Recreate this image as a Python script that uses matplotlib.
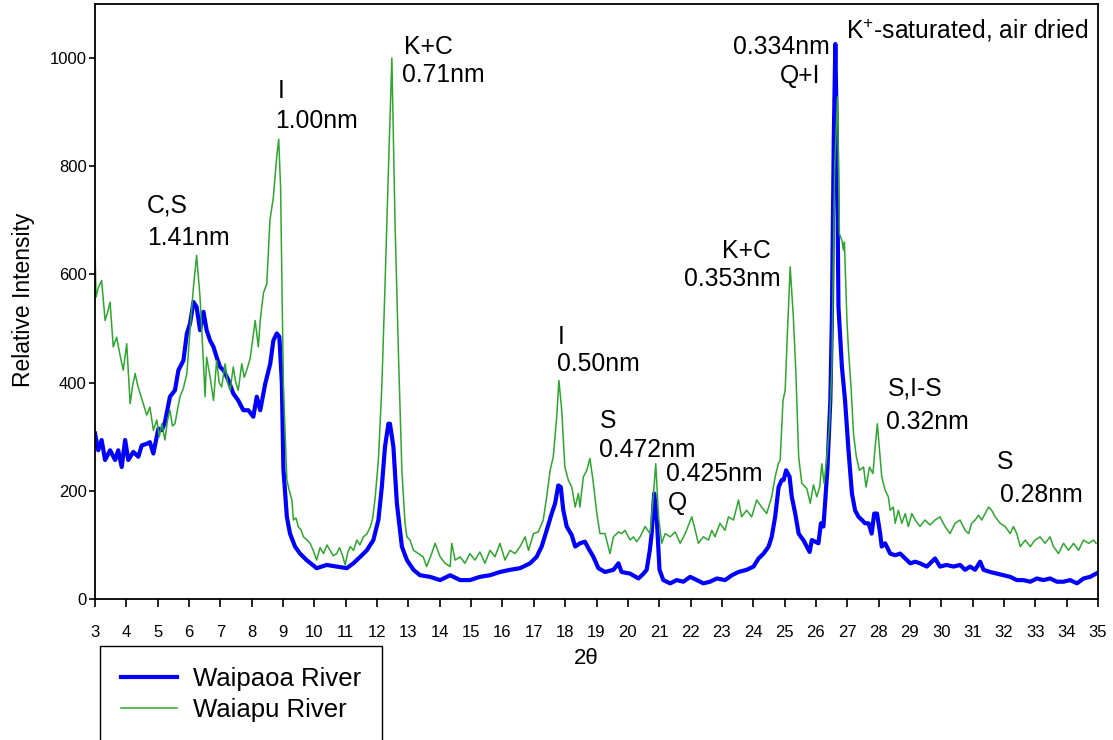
import matplotlib
matplotlib.use("Agg")
import matplotlib.pyplot as plt

plt.rcParams['font.family'] = ['Liberation Sans', 'DejaVu Sans']
plt.rcParams['mathtext.fontset'] = 'custom'
plt.rcParams['mathtext.rm'] = 'Liberation Sans'
plt.rcParams['mathtext.default'] = 'regular'

# Waipaoa River (blue)
waipaoa_x = [3.00, 3.10, 3.21, 3.32, 3.48, 3.64, 3.74, 3.85, 3.96, 4.06, 4.22, 4.38, 4.49, 4.65, 4.75,
             4.86, 5.02, 5.13, 5.23, 5.39, 5.55, 5.66, 5.82, 5.93, 6.03, 6.14, 6.24, 6.35, 6.46, 6.56,
             6.67, 6.78, 6.88, 6.99, 7.10, 7.26, 7.41, 7.57, 7.73, 7.89, 8.05, 8.16, 8.27, 8.43, 8.59,
             8.69, 8.80, 8.88, 8.96, 9.01, 9.12, 9.22, 9.38, 9.54, 9.75, 10.07, 10.39, 10.71, 11.03,
             11.24, 11.46, 11.67, 11.88, 12.04, 12.15, 12.25, 12.36, 12.41, 12.52, 12.63, 12.79, 12.95,
             13.16, 13.37, 13.69, 14.01, 14.33, 14.65, 14.96, 15.28, 15.60, 15.92, 16.24, 16.56, 16.88,
             17.09, 17.25, 17.41, 17.57, 17.68, 17.78, 17.86, 17.94, 18.05, 18.21, 18.32, 18.47, 18.63,
             18.74, 18.90, 19.06, 19.27, 19.54, 19.70, 19.80, 20.07, 20.34, 20.50, 20.60, 20.70, 20.76,
             20.84, 20.92, 21.01, 21.13, 21.35, 21.56, 21.77, 21.99, 22.20, 22.41, 22.62, 22.84, 23.10,
             23.32, 23.53, 23.79, 24.01, 24.17, 24.33, 24.49, 24.59, 24.70, 24.81, 24.91, 24.97, 25.05,
             25.16, 25.23, 25.34, 25.45, 25.52, 25.60, 25.71, 25.80, 25.87, 25.98, 26.08, 26.16, 26.24,
             26.30, 26.37, 26.46, 26.51, 26.57, 26.62, 26.67, 26.72, 26.77, 26.83, 26.93, 27.04, 27.15,
             27.25, 27.36, 27.47, 27.57, 27.68, 27.78, 27.86, 27.95, 28.05, 28.10, 28.21, 28.37, 28.53,
             28.69, 28.85, 29.01, 29.17, 29.32, 29.54, 29.80, 29.96, 30.17, 30.39, 30.60, 30.76, 30.92,
             31.08, 31.24, 31.35, 31.56, 31.77, 31.99, 32.20, 32.41, 32.62, 32.84, 33.05, 33.26, 33.47,
             33.69, 33.90, 34.11, 34.33, 34.54, 34.75, 34.94]
waipaoa_y = [306, 275, 294, 257, 275, 257, 275, 244, 294, 257, 272, 263, 284, 287, 290,
             269, 315, 312, 327, 374, 386, 423, 441, 491, 509, 549, 540, 497, 531, 497,
             478, 466, 447, 429, 423, 404, 380, 367, 349, 349, 337, 374, 349, 398, 435,
             478, 491, 485, 400, 240, 152, 121, 97, 84, 72, 57, 63, 60, 57,
             66, 78, 90, 109, 146, 207, 281, 324, 324, 281, 177, 97, 72,
             54, 44, 41, 35, 44, 35, 35, 41, 44, 50, 54, 57, 66,
             78, 97, 127, 158, 177, 210, 207, 164, 134, 118, 97, 103, 106,
             94, 78, 57, 50, 54, 66, 50, 47, 38, 47, 54, 90, 121,
             195, 152, 54, 35, 29, 35, 32, 41, 35, 29, 32, 38, 35,
             44, 50, 54, 60, 75, 84, 97, 115, 152, 207, 220, 220, 238,
             226, 189, 158, 121, 115, 109, 97, 87, 109, 106, 103, 140, 134,
             183, 244, 367, 520, 850, 1026, 850, 540, 491, 429, 367, 275, 195,
             164, 152, 146, 140, 140, 121, 158, 158, 121, 97, 103, 84, 81,
             84, 75, 66, 69, 66, 60, 75, 60, 63, 60, 63, 54, 60,
             54, 69, 54, 50, 47, 44, 41, 35, 35, 32, 38, 35, 38,
             32, 32, 35, 29, 38, 41, 47]

# Waiapu River (green)
waiapu_x = [3.00, 3.03, 3.10, 3.21, 3.32, 3.40, 3.48, 3.58, 3.69, 3.80, 3.90, 4.01, 4.12, 4.20, 4.28,
            4.36, 4.44, 4.54, 4.65, 4.75, 4.86, 4.97, 5.05, 5.13, 5.23, 5.31, 5.39, 5.47, 5.55, 5.63,
            5.71, 5.82, 5.93, 6.03, 6.14, 6.24, 6.35, 6.46, 6.51, 6.56, 6.67, 6.78, 6.88, 6.96, 7.04,
            7.15, 7.23, 7.31, 7.41, 7.49, 7.57, 7.68, 7.76, 7.84, 7.95, 8.03, 8.11, 8.21, 8.27, 8.37,
            8.48, 8.58, 8.69, 8.80, 8.86, 8.92, 9.01, 9.12, 9.20, 9.28, 9.33, 9.41, 9.49, 9.57, 9.65,
            9.75, 9.86, 9.96, 10.07, 10.18, 10.29, 10.40, 10.50, 10.60, 10.71, 10.80, 10.90, 10.98,
            11.06, 11.14, 11.25, 11.35, 11.45, 11.56, 11.67, 11.78, 11.86, 11.94, 12.04, 12.15, 12.25,
            12.36, 12.47, 12.57, 12.68, 12.79, 12.89, 12.95, 13.05, 13.16, 13.32, 13.47, 13.58, 13.74,
            13.85, 14.01, 14.17, 14.33, 14.38, 14.49, 14.65, 14.80, 14.96, 15.12, 15.28, 15.44, 15.60,
            15.76, 15.92, 16.08, 16.24, 16.40, 16.56, 16.72, 16.83, 16.99, 17.14, 17.30, 17.41, 17.52,
            17.62, 17.73, 17.80, 17.89, 17.99, 18.10, 18.21, 18.32, 18.42, 18.47, 18.58, 18.69, 18.79,
            18.90, 19.01, 19.11, 19.27, 19.43, 19.54, 19.70, 19.80, 19.91, 20.07, 20.18, 20.28, 20.39,
            20.55, 20.71, 20.82, 20.89, 20.98, 21.08, 21.19, 21.35, 21.51, 21.67, 21.83, 22.04, 22.15,
            22.25, 22.41, 22.57, 22.68, 22.78, 22.94, 23.10, 23.21, 23.37, 23.53, 23.63, 23.79, 23.95,
            24.11, 24.27, 24.43, 24.59, 24.70, 24.80, 24.86, 24.95, 25.02, 25.09, 25.18, 25.28, 25.36,
            25.45, 25.55, 25.71, 25.82, 25.92, 26.03, 26.12, 26.19, 26.26, 26.35, 26.43, 26.51, 26.60,
            26.69, 26.75, 26.83, 26.88, 26.91, 26.99, 27.04, 27.12, 27.20, 27.29, 27.39, 27.52, 27.60,
            27.71, 27.82, 27.89, 27.96, 28.03, 28.10, 28.21, 28.31, 28.37, 28.47, 28.53, 28.63, 28.74,
            28.85, 28.95, 29.06, 29.17, 29.32, 29.48, 29.64, 29.80, 29.96, 30.12, 30.28, 30.44, 30.60,
            30.76, 30.87, 30.97, 31.08, 31.19, 31.29, 31.40, 31.51, 31.61, 31.72, 31.88, 32.04, 32.20,
            32.30, 32.41, 32.52, 32.68, 32.84, 32.99, 33.15, 33.31, 33.47, 33.58, 33.74, 33.90, 34.06,
            34.22, 34.38, 34.54, 34.70, 34.86, 34.94]
waiapu_y = [651, 558, 575, 589, 515, 530, 549, 466, 484, 450, 423, 472, 361, 395, 417,
            395, 380, 361, 340, 355, 312, 331, 300, 324, 294, 330, 349, 320, 324, 350,
            374, 390, 417, 497, 577, 635, 558, 435, 374, 447, 411, 367, 441, 400, 392,
            435, 400, 386, 429, 400, 386, 435, 410, 423, 445, 480, 515, 466, 515, 565,
            583, 700, 743, 820, 850, 760, 392, 220, 200, 183, 146, 150, 133, 128, 115,
            110, 103, 90, 72, 95, 84, 100, 90, 80, 84, 95, 80, 63,
            85, 97, 90, 109, 100, 115, 120, 133, 150, 189, 257, 392, 577,
            792, 1000, 700, 454, 238, 140, 115, 109, 90, 84, 78, 60, 84,
            103, 78, 66, 60, 103, 72, 78, 66, 84, 72, 87, 66, 90,
            78, 103, 72, 90, 84, 97, 115, 90, 121, 124, 146, 189, 238,
            263, 337, 404, 349, 244, 220, 207, 170, 195, 170, 226, 238, 260,
            214, 158, 121, 121, 84, 115, 124, 121, 127, 109, 115, 106, 115,
            134, 121, 195, 250, 152, 103, 121, 115, 124, 103, 121, 152, 127,
            103, 115, 109, 127, 115, 140, 127, 152, 146, 183, 152, 164, 152,
            183, 170, 158, 189, 226, 250, 257, 367, 386, 491, 614, 521, 420,
            263, 214, 204, 177, 211, 189, 207, 250, 214, 263, 318, 429, 800,
            928, 675, 663, 645, 660, 515, 460, 392, 306, 263, 238, 244, 207,
            244, 232, 281, 324, 275, 226, 201, 189, 164, 170, 140, 164, 140,
            158, 134, 158, 146, 134, 146, 137, 146, 152, 134, 121, 140, 146,
            127, 121, 140, 146, 155, 146, 158, 170, 164, 152, 140, 134, 121,
            134, 121, 97, 109, 97, 109, 115, 103, 115, 97, 84, 103, 90,
            103, 90, 109, 103, 109, 103]

series_names = ["Waipaoa River", "Waiapu River"]
x_ticks = list(range(3, 36))
y_ticks = [0, 200, 400, 600, 800, 1000]

# peak labels: (text, x, y, horizontal alignment)
peak_labels = [
    ("C,S", 4.66, 727, "left"), ("1.41nm", 4.66, 668, "left"),
    ("I", 8.84, 940, "left"), ("1.00nm", 8.74, 884, "left"),
    ("K+C", 12.86, 1020, "left"), ("0.71nm", 12.80, 968, "left"),
    ("I", 17.75, 485, "left"), ("0.50nm", 17.75, 434, "left"),
    ("S", 19.12, 330, "left"), ("0.472nm", 19.08, 275, "left"),
    ("0.425nm", 21.22, 232, "left"), ("Q", 21.28, 177, "left"),
    ("K+C", 23.01, 644, "left"), ("0.353nm", 21.79, 591, "left"),
    ("0.334nm", 26.45, 1020, "right"), ("Q+I", 26.13, 967, "right"),
    ("S,I-S", 28.30, 390, "left"), ("0.32nm", 28.24, 328, "left"),
    ("S", 31.78, 253, "left"), ("0.28nm", 31.88, 192, "left"),
]

fig = plt.figure(figsize=(11.13, 7.40), dpi=100)
ax = fig.add_axes([0.0854, 0.1905, 0.9011, 0.8041])

l1, = ax.plot(waipaoa_x, waipaoa_y, color="#0000ff", lw=3.0, solid_joinstyle="round")
l2, = ax.plot(waiapu_x, waiapu_y, color="#2ea62e", lw=1.1)

ax.set_xlim(3, 35)
ax.set_ylim(0, 1100)
ax.set_xticks(x_ticks)
ax.set_yticks(y_ticks)
ax.tick_params(axis="x", direction="out", length=6, width=1.2, pad=13, labelsize=12)
ax.tick_params(axis="y", direction="out", length=4, width=1.2, pad=2, labelsize=12)
for s in ax.spines.values():
    s.set_linewidth(1.3)

for txt, x, y, ha in peak_labels:
    ax.text(x, y, txt, ha=ha, va="center", fontsize=17.8)
ax.text(26.96, 1051, "K$^{+}$-saturated, air dried", ha="left", va="center", fontsize=17.8)

ax.set_ylabel("Relative Intensity", fontsize=16.5)
ax.yaxis.set_label_coords(-0.06, 0.5025)
ax.set_xlabel("2θ", fontsize=16)
ax.xaxis.set_label_coords(0.49, -0.083)

fig.legend([l1, l2], series_names, loc="upper left", bbox_to_anchor=(100 / 1113, 1 - 646 / 740),
           fontsize=18.5, frameon=True, fancybox=False, edgecolor="black", framealpha=1,
           borderaxespad=0, borderpad=0.8, handlelength=2.2, handletextpad=0.62, labelspacing=0.3)

fig.savefig("out.png", dpi=100)
